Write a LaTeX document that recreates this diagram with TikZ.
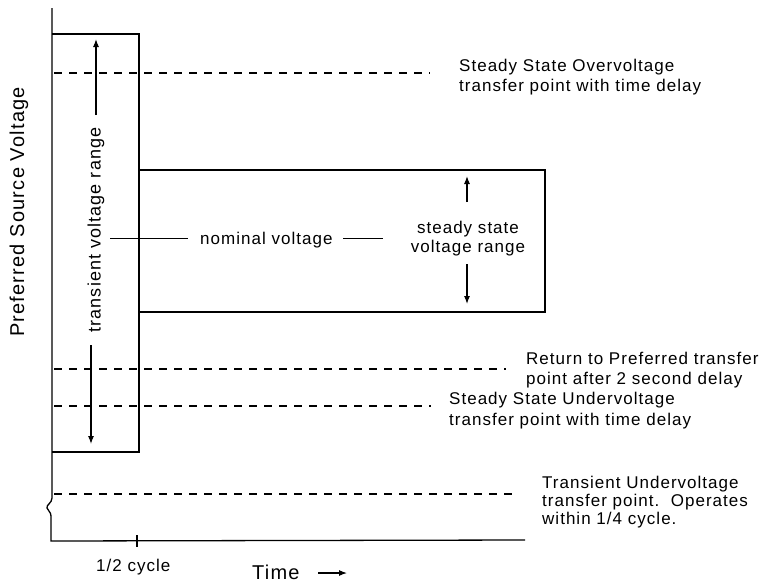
\documentclass[tikz,border=0pt]{standalone}
\usepackage{fontspec}
\setmainfont{Liberation Sans}[LetterSpace=6]
\usetikzlibrary{arrows.meta}
\begin{document}
\begin{tikzpicture}[x=1pt,y=-1pt,
  ln/.style={line width=1.3pt},
  dsh/.style={line width=1.1pt, dash pattern=on 8pt off 7pt},
  lbl/.style={inner sep=0pt, anchor=base west, font=\fontsize{17}{20}\selectfont},
  clbl/.style={inner sep=0pt, anchor=base, font=\fontsize{17}{20}\selectfont},
  big/.style={inner sep=0pt, font=\fontsize{20}{24}\selectfont},
  arr/.style={line width=1.1pt, -{Latex[length=8pt,width=6pt]}},
]
\useasboundingbox (0,0) rectangle (766,582);
% axes
\coordinate (axtop) at (52,8);
\coordinate (corner) at (51,541);
\coordinate (axend) at (525,540);
\draw[ln] (axtop) -- (52,498) .. controls (52,503) and (46,505) .. (47,508)
   .. controls (48,511) and (51,512) .. (51,516) -- (corner) -- (axend);
\coordinate (tickT) at (137,535);
\coordinate (tickB) at (137,547);
\draw[ln] (tickT) -- (tickB);
% boxes
\draw[ln] (52,34) -- (139,34) -- (139,452) -- (52,452);
\draw[ln] (139,170) -- (545,170) -- (545,312) -- (139,312);
% dashed levels
\coordinate (d1a) at (54,73);  \coordinate (d1b) at (430,73);
\coordinate (d2a) at (54,369); \coordinate (d2b) at (506,369);
\coordinate (d3a) at (54,406); \coordinate (d3b) at (431,406);
\coordinate (d4a) at (54,494); \coordinate (d4b) at (517,494);
\draw[dsh] (d1a) -- (d1b);
\draw[dsh] (d2a) -- (d2b);
\draw[dsh] (d3a) -- (d3b);
\draw[dsh] (d4a) -- (d4b);
% nominal
\node[lbl] (nom) at (200,244) {nominal voltage};
\coordinate (n1) at (110,238);
\coordinate (n2) at (188,238);
\coordinate (n3) at (343,238);
\coordinate (n4) at (383,238);
\draw[line width=1pt] (n1) -- (n2);
\draw[line width=1pt] (n3) -- (n4);
% steady state range
\node[clbl] (ss1) at (468,233) {steady state};
\node[clbl] (ss2) at (468,252) {voltage range};
\coordinate (su1) at (467,202); \coordinate (su2) at (467,176);
\coordinate (sd1) at (467,264); \coordinate (sd2) at (467,304);
\draw[arr] (su1) -- (su2);
\draw[arr] (sd1) -- (sd2);
% transient range
\node[inner sep=0pt, rotate=90, font=\fontsize{18}{20}\selectfont] (tvr) at (96,230) {transient voltage range};
\coordinate (tu1) at (96,115); \coordinate (tu2) at (96,39);
\coordinate (td1) at (91,345); \coordinate (td2) at (91,444);
\draw[arr] (tu1) -- (tu2);
\draw[arr] (td1) -- (td2);
% y label
\node[big, rotate=90] (ylab) at (19,212) {Preferred Source Voltage};
% x labels
\node[lbl] (half) at (96,571) {1/2 cycle};
\node[big, anchor=base west] (time) at (252,579) {Time};
\coordinate (ta1) at (318,573); \coordinate (ta2) at (347,573);
\draw[arr] (ta1) -- (ta2);
% right labels
\node[lbl] (ov1) at (459,71) {Steady State Overvoltage};
\node[lbl] (ov2) at (459,91) {transfer point with time delay};
\node[lbl] (rt1) at (526,364) {Return to Preferred transfer};
\node[lbl] (rt2) at (526,384) {point after 2 second delay};
\node[lbl] (uv1) at (449,404) {Steady State Undervoltage};
\node[lbl] (uv2) at (449,425) {transfer point with time delay};
\node[lbl] (tr1) at (542,488) {Transient Undervoltage};
\node[lbl] (tr2) at (542,506) {transfer point.\ \ Operates};
\node[lbl] (tr3) at (542,524) {within 1/4 cycle.};
\end{tikzpicture}
\end{document}
